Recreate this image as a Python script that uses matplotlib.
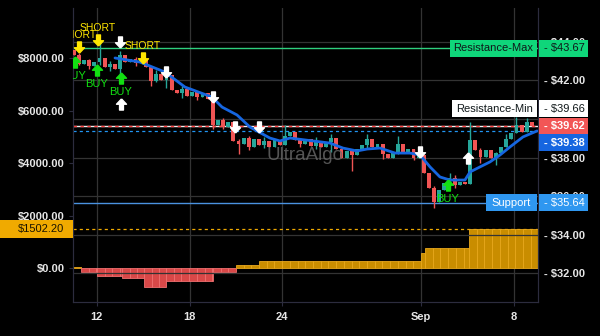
import numpy as np
import matplotlib
matplotlib.use("Agg")
import matplotlib.pyplot as plt
import matplotlib.transforms as mtransforms
from matplotlib.patches import Rectangle
from matplotlib.path import Path

plt.rcParams["font.family"] = ["Liberation Sans", "DejaVu Sans"]

# ---------------------------------------------------------------------------
# Data (x = day of August; Sep 8 = 39)
# ---------------------------------------------------------------------------
candle_start = 10.5
candle_step = 1 / 3
first_open = 43.6
closes = [
    43.30, 42.85, 43.05, 42.75, 42.95, 43.15, 42.70, 42.85, 42.60, 43.30,
    42.95, 43.10, 42.90, 43.05, 42.70, 41.95, 42.35, 42.05, 42.30, 41.50,
    41.35, 41.55, 41.20, 41.40, 41.15, 41.35, 41.05, 39.70, 39.95, 39.60,
    39.85, 38.85, 38.70, 39.00, 38.55, 38.95, 38.65, 38.85, 38.55, 38.90,
    38.65, 39.10, 39.35, 38.90, 38.70, 38.95, 38.60, 38.85, 38.55, 38.80,
    39.00, 38.45, 38.00, 38.35, 38.15, 38.45, 38.65, 38.95, 38.55, 38.70,
    38.20, 37.95, 38.25, 38.70, 38.30, 38.45, 38.00, 38.15, 37.20, 36.40,
    35.70, 36.30, 36.65, 36.95, 36.55, 36.75, 36.60, 38.90, 38.40, 38.05,
    38.40, 37.95, 38.25, 38.55, 38.95, 39.25, 39.70, 39.35, 39.85, 39.62,
]
# wicks that stick out of the bodies: candle index, high, low
wick_idx = [1, 3, 5, 7, 9, 12, 15, 16, 18, 21, 24, 27, 29, 32, 34, 37, 41,
            44, 47, 50, 54, 57, 60, 63, 66, 70, 73, 74, 77, 79, 82, 84, 86, 88]
wick_hi = [43.45, 43.10, 44.00, 43.00, 43.55, 43.20, 42.70, 42.55, 42.50, 41.70, 41.45, 41.10,
           40.05, 38.95, 39.10, 39.05, 39.70, 39.00, 39.05, 39.20, 38.40, 39.20, 38.50, 39.10,
           38.30, 36.50, 37.20, 37.10, 39.85, 38.50, 38.30, 39.20, 40.10, 40.05]
wick_lo = [42.80, 42.60, 42.80, 42.50, 42.10, 42.75, 41.70, 41.90, 41.60, 41.10, 41.00, 39.50,
           39.50, 38.20, 38.40, 38.50, 38.90, 38.55, 38.45, 38.30, 37.30, 38.50, 37.90, 38.20,
           37.85, 35.40, 36.50, 36.40, 36.60, 37.70, 37.60, 38.70, 39.30, 39.50]

ma_day = [13.17, 14.78, 16.40, 17.70, 19.45, 20.10, 21.07, 21.91, 23.20, 23.85, 24.50,
          25.99, 27.09, 27.93, 28.84, 29.49, 30.33, 31.30, 32.27, 32.92, 33.57, 34.21,
          34.86, 35.83, 36.16, 36.80, 37.45, 38.10, 38.75, 39.59, 40.50]
ma_price = [43.17, 42.96, 42.44, 41.66, 41.14, 40.62, 40.21, 39.58, 39.01, 38.86, 39.01,
            38.86, 38.75, 38.49, 38.34, 38.44, 38.49, 38.23, 38.23, 38.13, 37.51, 36.99,
            36.83, 36.83, 37.25, 37.51, 37.77, 38.13, 38.55, 39.07, 39.38]

hist_seg_start = [10.45, 10.96, 12.00, 13.62, 15.04, 16.47, 19.51, 21.00, 22.49, 32.98, 33.24, 36.09]
hist_seg_value = [20, -150, -300, -380, -720, -500, -150, 110, 260, 570, 760, 1502.20]
hist_end = 40.56

short_day = [10.83, 12.06, 14.98]
short_price = [43.74, 44.10, 43.17]
buy_day = [10.58, 12.00, 13.55, 34.73]
buy_price = [42.96, 42.55, 42.13, 36.57]
exit_dn_day = [13.49, 16.47, 19.51, 20.94, 22.49, 32.92]
exit_dn_price = [44.00, 42.44, 41.14, 39.58, 39.58, 38.29]
exit_up_day = [13.55, 36.03]
exit_up_price = [40.78, 37.97]

res_max = 43.67
res_min = 39.66
last_close = 39.62
ma_last = 39.38
support = 35.64
hist_last = 1502.20

x_ticks = [12, 18, 24, 33, 39]
x_labels = ["12", "18", "24", "Sep", "8"]
left_ticks = [0, 2000, 4000, 6000, 8000]
right_ticks = [32, 34, 36, 38, 40, 42, 44]

# ---------------------------------------------------------------------------
# Styling
# ---------------------------------------------------------------------------
BG = "#000000"
GRID = "#333333"
SPINE = "#2c2c3e"
TXT = "#e6e6e6"
UP = "#26a69a"
DN = "#f05454"
GREEN_BOX = "#0fd67a"
RED_BOX = "#f25656"
MA_BLUE = "#1666e0"
SUP_BLUE = "#2f97f0"
ORANGE = "#f0aa00"

W, H = 600, 336
fig = plt.figure(figsize=(W / 100, H / 100), dpi=100, facecolor=BG)
ax = fig.add_axes([73 / W, 34 / H, 465 / W, 294 / H])
ax2 = ax.twinx()
ax.set_facecolor(BG)
ax2.patch.set_visible(False)

ax.set_xlim(10.45, 40.56)
ax.set_ylim(-1295, 9905)
ax2.set_ylim(30.494, 45.766)
px2 = 294 / (45.766 - 30.494)   # pixels per $ on price axis
px1 = 294 / (9905 + 1295)       # pixels per $ on histogram axis

# grid
for yv in right_ticks:
    ax2.axhline(yv, color=GRID, lw=0.9, zorder=0)
for xv in x_ticks:
    ax.axvline(xv, color=GRID, lw=0.9, zorder=0)

# histogram (left scale)
seg_ends = hist_seg_start[1:] + [hist_end]
for s, e, v in zip(hist_seg_start, seg_ends, hist_seg_value):
    fc, ec = ("#c98d00", "#e8a81c") if v >= 0 else ("#d94848", "#f07070")
    edges = np.arange(s, e, 0.5)
    widths = np.minimum(0.5, e - edges)
    ax.bar(edges, [v] * len(edges), width=widths, align="edge",
           color=fc, edgecolor=ec, linewidth=0.6, zorder=2)
ax.axhline(hist_last, color=ORANGE, lw=0.9, ls=(0, (2.5, 2.5)), zorder=1)

# level lines (price scale)
ax2.axhline(res_max, color="#2fd07f", lw=1.0, zorder=2)
ax2.axhline(res_min, color="#f0f0f0", lw=1.0, zorder=2)
ax2.axhline(last_close, color="#ff4040", lw=1.0, ls=(0, (2.5, 2.5)), zorder=2)
ax2.axhline(ma_last, color="#2196f3", lw=0.9, ls=(0, (2.5, 2.5)), zorder=2)
ax2.axhline(support, color="#4a92e0", lw=1.0, zorder=2)

# candles
n = len(closes)
cx = candle_start + np.arange(n) * candle_step
opens = np.array([first_open] + closes[:-1])
cl = np.array(closes)
hi = np.maximum(opens, cl)
lo = np.minimum(opens, cl)
hi[wick_idx] = np.maximum(hi[wick_idx], wick_hi)
lo[wick_idx] = np.minimum(lo[wick_idx], wick_lo)
col = np.where(cl >= opens, UP, DN)
ax2.vlines(cx, lo, hi, colors=col, lw=1.0, zorder=3)
ax2.bar(cx, np.maximum(np.abs(cl - opens), 0.06), bottom=np.minimum(opens, cl),
        width=0.25, color=col, linewidth=0, zorder=3)

# moving average
ax2.plot(ma_day, ma_price, color=MA_BLUE, lw=2.0, zorder=4, solid_capstyle="round")

# signal arrows
up_arrow = Path([(0, 1), (0.9, 0.05), (0.35, 0.05), (0.35, -1), (-0.35, -1),
                 (-0.35, 0.05), (-0.9, 0.05), (0, 1)])
dn_arrow = Path(np.array(up_arrow.vertices) * [1, -1])
ax2.plot(short_day, short_price, ls="none", marker=dn_arrow, ms=8, color="#ffe600", zorder=5)
ax2.plot(buy_day, buy_price, ls="none", marker=up_arrow, ms=8, color="#12e012", zorder=5)
ax2.plot(exit_dn_day, exit_dn_price, ls="none", marker=dn_arrow, ms=8, color="white", zorder=5)
ax2.plot(exit_up_day, exit_up_price, ls="none", marker=up_arrow, ms=8, color="white", zorder=5)
for d, p in zip(short_day, short_price):
    ax2.annotate("SHORT", (d, p), xytext=(0, 8.5), textcoords="offset points",
                 ha="center", va="center", fontsize=7.5, color="#ffe600",
                 annotation_clip=False, clip_on=True, zorder=6)
for d, p in zip(buy_day, buy_price):
    ax2.annotate("BUY", (d, p), xytext=(0, -10), textcoords="offset points",
                 ha="center", va="center", fontsize=8, color="#12e012",
                 annotation_clip=False, clip_on=True, zorder=6)

# watermark
ax2.text(0.498, 0.497, "UltraAlgo", transform=ax2.transAxes, ha="center", va="center",
         fontsize=13.5, color="#6a6a6a", alpha=0.8, zorder=7)

# axes / ticks
for a in (ax, ax2):
    a.spines["top"].set_visible(False)
    for s in ("left", "right", "bottom"):
        a.spines[s].set_color(SPINE)
ax.set_xticks(x_ticks)
ax.set_xticklabels(x_labels)
ax.tick_params(axis="x", colors=SPINE, labelcolor=TXT, length=3, labelsize=8, pad=4)
ax.set_yticks(left_ticks)
ax.set_yticklabels([f"${v:.2f}" for v in left_ticks])
ax.tick_params(axis="y", colors=SPINE, labelcolor=TXT, length=3, labelsize=8, pad=3)
ax2.set_yticks(right_ticks)
# the $40 label sits fully under the price boxes, so it is left blank
ax2.set_yticklabels(["" if v == 40 else f"- ${v:.2f}" for v in right_ticks])
ax2.tick_params(axis="y", length=0, labelcolor=TXT, labelsize=8, pad=4.5)
for lab in ax.get_xticklabels() + ax.get_yticklabels() + ax2.get_yticklabels():
    lab.set_fontweight("bold")

# right-hand price labels
trans2 = mtransforms.blended_transform_factory(ax2.transAxes, ax2.transData)
box_h = 17 / px2


def right_box(val, shift_px, text, fc, tc, bold=False):
    yc = val + shift_px / px2
    ax2.add_patch(Rectangle((1.002, yc - box_h / 2), 0.1054, box_h, transform=trans2,
                            facecolor=fc, edgecolor="none", clip_on=False, zorder=8))
    ax2.text(1.013, yc, text, transform=trans2, ha="left", va="center", fontsize=8,
             color=tc, fontweight="bold" if bold else "normal", clip_on=False, zorder=9)
    return yc


def name_box(yc, x0, text, fc, tc):
    ax2.add_patch(Rectangle((x0, yc - box_h / 2), 0.9978 - x0, box_h, transform=trans2,
                            facecolor=fc, edgecolor="none", clip_on=False, zorder=8))
    ax2.text((x0 + 0.9978) / 2, yc, text, transform=trans2, ha="center", va="center",
             fontsize=8, color=tc, clip_on=False, zorder=9)


y_rmax = right_box(res_max, 0, f"- ${res_max:.2f}", GREEN_BOX, "#10181a")
name_box(y_rmax, 0.8108, "Resistance-Max", GREEN_BOX, "#10181a")
y_rmin = right_box(res_min, 17, f"- ${res_min:.2f}", "#ffffff", "#10181a")
name_box(y_rmin, 0.815, "Resistance-Min", "#ffffff", "#10181a")
right_box(last_close, 0, f"- ${last_close:.2f}", RED_BOX, "white", bold=True)
right_box(ma_last, -12, f"- ${ma_last:.2f}", MA_BLUE, "white", bold=True)
y_sup = right_box(support, 0, f"- ${support:.2f}", SUP_BLUE, "white")
name_box(y_sup, 0.888, "Support", SUP_BLUE, "white")

# left-hand histogram label
trans1 = mtransforms.blended_transform_factory(fig.transFigure, ax.transData)
h1 = 18 / px1
fig.patches.append(Rectangle((0, hist_last - h1 / 2), 73 / W, h1, transform=trans1,
                             facecolor=ORANGE, edgecolor="none", zorder=8))
fig.text(64 / W, hist_last, f"${hist_last:.2f}", transform=trans1, ha="right",
         va="center", fontsize=8, color="#1a1400", zorder=9)

fig.savefig("out.png", dpi=100, facecolor=BG)
